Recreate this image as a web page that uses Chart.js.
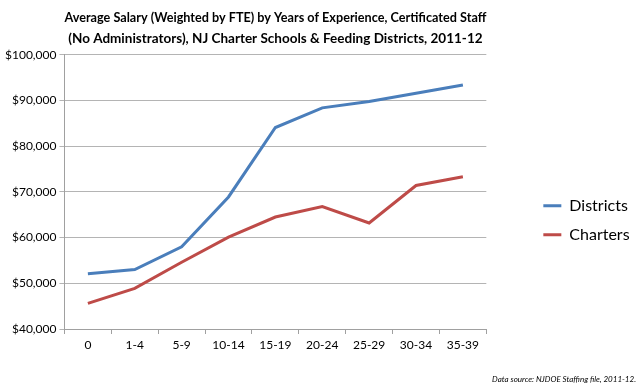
<!DOCTYPE html>
<html>
<head>
<meta charset="utf-8">
<script src="https://cdn.jsdelivr.net/npm/chart.js@4"></script>
<style>
  html, body { margin: 0; padding: 0; background: #fff; }
  #wrap { width: 640px; height: 388px; }
</style>
</head>
<body>
<div id="wrap"><canvas id="salaryChart"></canvas></div>
<script>
// Kategorien (Jahre Erfahrung)
const experience = ['0', '1-4', '5-9', '10-14', '15-19', '20-24', '25-29', '30-34', '35-39'];

// Durchschnittsgehälter
const districts = [52100, 53000, 58000, 68900, 84100, 88400, 89800, 91600, 93400];
const charters = [45600, 48900, 54600, 60100, 64500, 66800, 63200, 71400, 73300];

const titleLines = [
    'Average Salary (Weighted by FTE) by Years of Experience, Certificated Staff',
    '(No Administrators), NJ Charter Schools & Feeding Districts, 2011-12'
];
const sourceNote = 'Data source: NJDOE Staffing file, 2011-12.';

const fontFamily = "Lato, 'Open Sans', sans-serif";

const ctx = document.getElementById('salaryChart').getContext('2d');

const salaryChart = new Chart(ctx, {
    type: 'line',
    data: {
        labels: experience,
        datasets: [
            {
                label: 'Districts',
                data: districts,
                borderColor: '#4a7ebb',
                backgroundColor: '#4a7ebb',
                borderWidth: 3,
                pointRadius: 0,
                tension: 0
            },
            {
                label: 'Charters',
                data: charters,
                borderColor: '#be4b48',
                backgroundColor: '#be4b48',
                borderWidth: 3,
                pointRadius: 0,
                tension: 0
            }
        ]
    },
    options: {
        responsive: true,
        maintainAspectRatio: false,
        animation: false,
        layout: { padding: { left: 2, right: 4, top: 7, bottom: 4 } },
        scales: {
            x: {
                offset: true,
                grid: {
                    offset: true,
                    drawOnChartArea: false,
                    tickLength: 5,
                    color: '#a0a0a0'
                },
                border: { color: '#a0a0a0' },
                ticks: {
                    color: '#000',
                    font: { family: fontFamily, size: 12 },
                    padding: 4
                }
            },
            y: {
                min: 40000,
                max: 100000,
                grid: {
                    color: '#b4b4b4',
                    tickLength: 5
                },
                border: { color: '#a0a0a0' },
                ticks: {
                    stepSize: 10000,
                    color: '#000',
                    font: { family: fontFamily, size: 12 },
                    padding: 3,
                    callback: function(value) {
                        return '$' + value.toLocaleString('en-US');
                    }
                }
            },
            // leere Achse als Abstand zwischen Plot und Legende
            spacer: {
                type: 'linear',
                position: 'right',
                display: true,
                grid: { display: false },
                border: { display: false },
                ticks: { display: false },
                afterFit: function(scale) { scale.width = 44; }
            }
        },
        plugins: {
            title: {
                display: true,
                fullSize: false,
                text: titleLines,
                color: '#000',
                font: { family: fontFamily, size: 13.5, weight: 'bold', lineHeight: 1.55 },
                padding: { top: 0, bottom: 6 }
            },
            subtitle: {
                display: true,
                position: 'bottom',
                align: 'end',
                text: sourceNote,
                color: '#000',
                font: { family: fontFamily, size: 8, style: 'italic' },
                padding: { top: 18, bottom: 0 }
            },
            legend: {
                position: 'right',
                title: {
                    display: true,
                    text: ' ',
                    font: { size: 8 },
                    padding: { top: 40, bottom: 0 }
                },
                labels: {
                    usePointStyle: true,
                    pointStyle: 'line',
                    pointStyleWidth: 18,
                    color: '#000',
                    font: { family: fontFamily, size: 16 },
                    padding: 13
                }
            },
            tooltip: { enabled: false }
        }
    }
});
</script>
</body>
</html>
